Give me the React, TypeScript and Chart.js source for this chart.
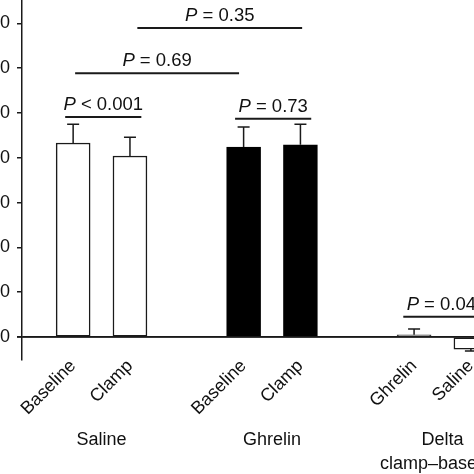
import React, { useEffect, useRef } from 'react';
import { Chart, registerables } from 'chart.js';

Chart.register(...registerables);

// ---- data ----
const categories = ['Baseline', 'Clamp', 'Baseline', 'Clamp', 'Ghrelin', 'Saline'];
const positions = [0, 1, 3, 4, 6, 7];
const values = [433, 404, 424, 429, 5, -27];
const errors = [42, 42, 45, 46, 13, 4];
const fills = ['#ffffff', '#ffffff', '#000000', '#000000', '#8c8c8c', '#ffffff'];
const borders = ['#1a1a1a', '#1a1a1a', '#000000', '#000000', '#3a3a3a', '#1a1a1a'];
const groupNames = [['Saline'], ['Ghrelin'], ['Delta', 'clamp\u2013baseline']];
const groupPositions = [0.5, 3.5, 6.5];
const yTicks = [0, 100, 200, 300, 400, 500, 600, 700, 800];
const bracketFrom = [-0.14, 0.035, 1.13, 2.85, 5.81];
const bracketTo = [1.2, 2.92, 4.03, 4.19, 7.15];
const bracketLevels = [491, 589, 690, 487, 45];
const bracketOps = ['<', '=', '=', '=', '='];
const bracketValues = ['0.001', '0.69', '0.35', '0.73', '0.04'];

const FAMILY = "'Liberation Sans', Arial, Helvetica, sans-serif";
const INK = '#111111';

const overlay = {
  id: 'overlay',
  afterDraw(chart: any) {
    const { ctx, scales, chartArea } = chart;
    const x = scales.x;
    const y = scales.y;
    ctx.save();
    // zero line on top of bars
    ctx.strokeStyle = '#1a1a1a';
    ctx.lineWidth = 1.5;
    ctx.beginPath();
    ctx.moveTo(chartArea.left - 5, y.getPixelForValue(0));
    ctx.lineTo(chartArea.right, y.getPixelForValue(0));
    ctx.stroke();

    // error bars
    ctx.lineWidth = 1.5;
    values.forEach((v, i) => {
      const px = x.getPixelForValue(positions[i]);
      const y0 = y.getPixelForValue(v);
      const sign = v >= 0 ? 1 : -1;
      const y1 = y.getPixelForValue(v + sign * errors[i]);
      ctx.beginPath();
      ctx.moveTo(px, y0);
      ctx.lineTo(px, y1);
      ctx.moveTo(px - 6, y1);
      ctx.lineTo(px + 6, y1);
      ctx.stroke();
    });

    // significance brackets
    ctx.lineWidth = 2;
    ctx.fillStyle = INK;
    ctx.textBaseline = 'alphabetic';
    bracketLevels.forEach((lv, i) => {
      const x1 = x.getPixelForValue(bracketFrom[i]);
      const x2 = x.getPixelForValue(bracketTo[i]);
      const py = y.getPixelForValue(lv);
      ctx.beginPath();
      ctx.moveTo(x1, py);
      ctx.lineTo(x2, py);
      ctx.stroke();
      const pPart = 'P';
      const rest = ' ' + bracketOps[i] + ' ' + bracketValues[i];
      ctx.font = `italic 18.5px ${FAMILY}`;
      const w1 = ctx.measureText(pPart).width;
      ctx.font = `18.5px ${FAMILY}`;
      const w2 = ctx.measureText(rest).width;
      const start = (x1 + x2) / 2 - (w1 + w2) / 2;
      ctx.textAlign = 'left';
      ctx.font = `italic 18.5px ${FAMILY}`;
      ctx.fillText(pPart, start, py - 7);
      ctx.font = `18.5px ${FAMILY}`;
      ctx.fillText(rest, start + w1, py - 7);
    });

    // group labels
    ctx.textAlign = 'center';
    ctx.textBaseline = 'middle';
    ctx.font = `18px ${FAMILY}`;
    groupNames.forEach((lines, i) => {
      const px = x.getPixelForValue(groupPositions[i]);
      lines.forEach((t, j) => {
        ctx.fillText(t, px, chartArea.bottom + 81 + j * 24);
      });
    });
    ctx.restore();
  },
};

export default function App() {
  const ref = useRef<HTMLCanvasElement>(null);
  useEffect(() => {
    const chart = new Chart(ref.current as HTMLCanvasElement, {
      type: 'bar',
      data: {
        datasets: [
          {
            data: positions.map((p, i) => ({ x: p, y: values[i] })),
            backgroundColor: fills,
            borderColor: borders,
            borderWidth: 1.5,
            borderSkipped: false,
            barThickness: 34,
            grouped: false,
          } as any,
        ],
      },
      options: {
        animation: false,
        responsive: false,
        events: [],
        plugins: { legend: { display: false }, tooltip: { enabled: false } },
        layout: { padding: { top: 18.6, left: 0, right: 10, bottom: 0 } },
        scales: {
          x: {
            type: 'linear',
            offset: false,
            min: -0.9,
            max: 8.04,
            grid: { display: false, drawTicks: false, tickLength: 0 },
            border: { display: false },
            afterBuildTicks: (s: any) => {
              s.ticks = positions.map((v) => ({ value: v }));
            },
            afterFit: (s: any) => {
              s.height = 140.6;
            },
            ticks: {
              autoSkip: false,
              minRotation: 45,
              maxRotation: 45,
              padding: -4,
              color: INK,
              font: { family: FAMILY, size: 18 },
              callback: (v: any) => {
                const i = positions.indexOf(Number(v));
                return i >= 0 ? categories[i] : '';
              },
            },
          },
          y: {
            min: -50,
            max: 800,
            afterBuildTicks: (s: any) => {
              s.ticks = yTicks.map((v) => ({ value: v }));
            },
            afterFit: (s: any) => {
              s.width = 82;
            },
            border: { display: true, color: '#1a1a1a', width: 1.5 },
            grid: {
              color: (c: any) => (c.tick && c.tick.value === 0 ? '#1a1a1a' : 'rgba(0,0,0,0)'),
              tickColor: '#1a1a1a',
              lineWidth: 1.5,
              tickLength: 5,
              drawTicks: true,
            },
            ticks: {
              padding: 7,
              color: INK,
              font: { family: FAMILY, size: 18 },
            },
          },
        },
      } as any,
      plugins: [overlay],
    });
    return () => chart.destroy();
  }, []);
  return (
    <div style={{ position: 'fixed', left: -60, top: -40, width: 600, height: 540, background: '#fff' }}>
      <canvas ref={ref} width={600} height={540} style={{ width: 600, height: 540, display: 'block' }} />
    </div>
  );
}
